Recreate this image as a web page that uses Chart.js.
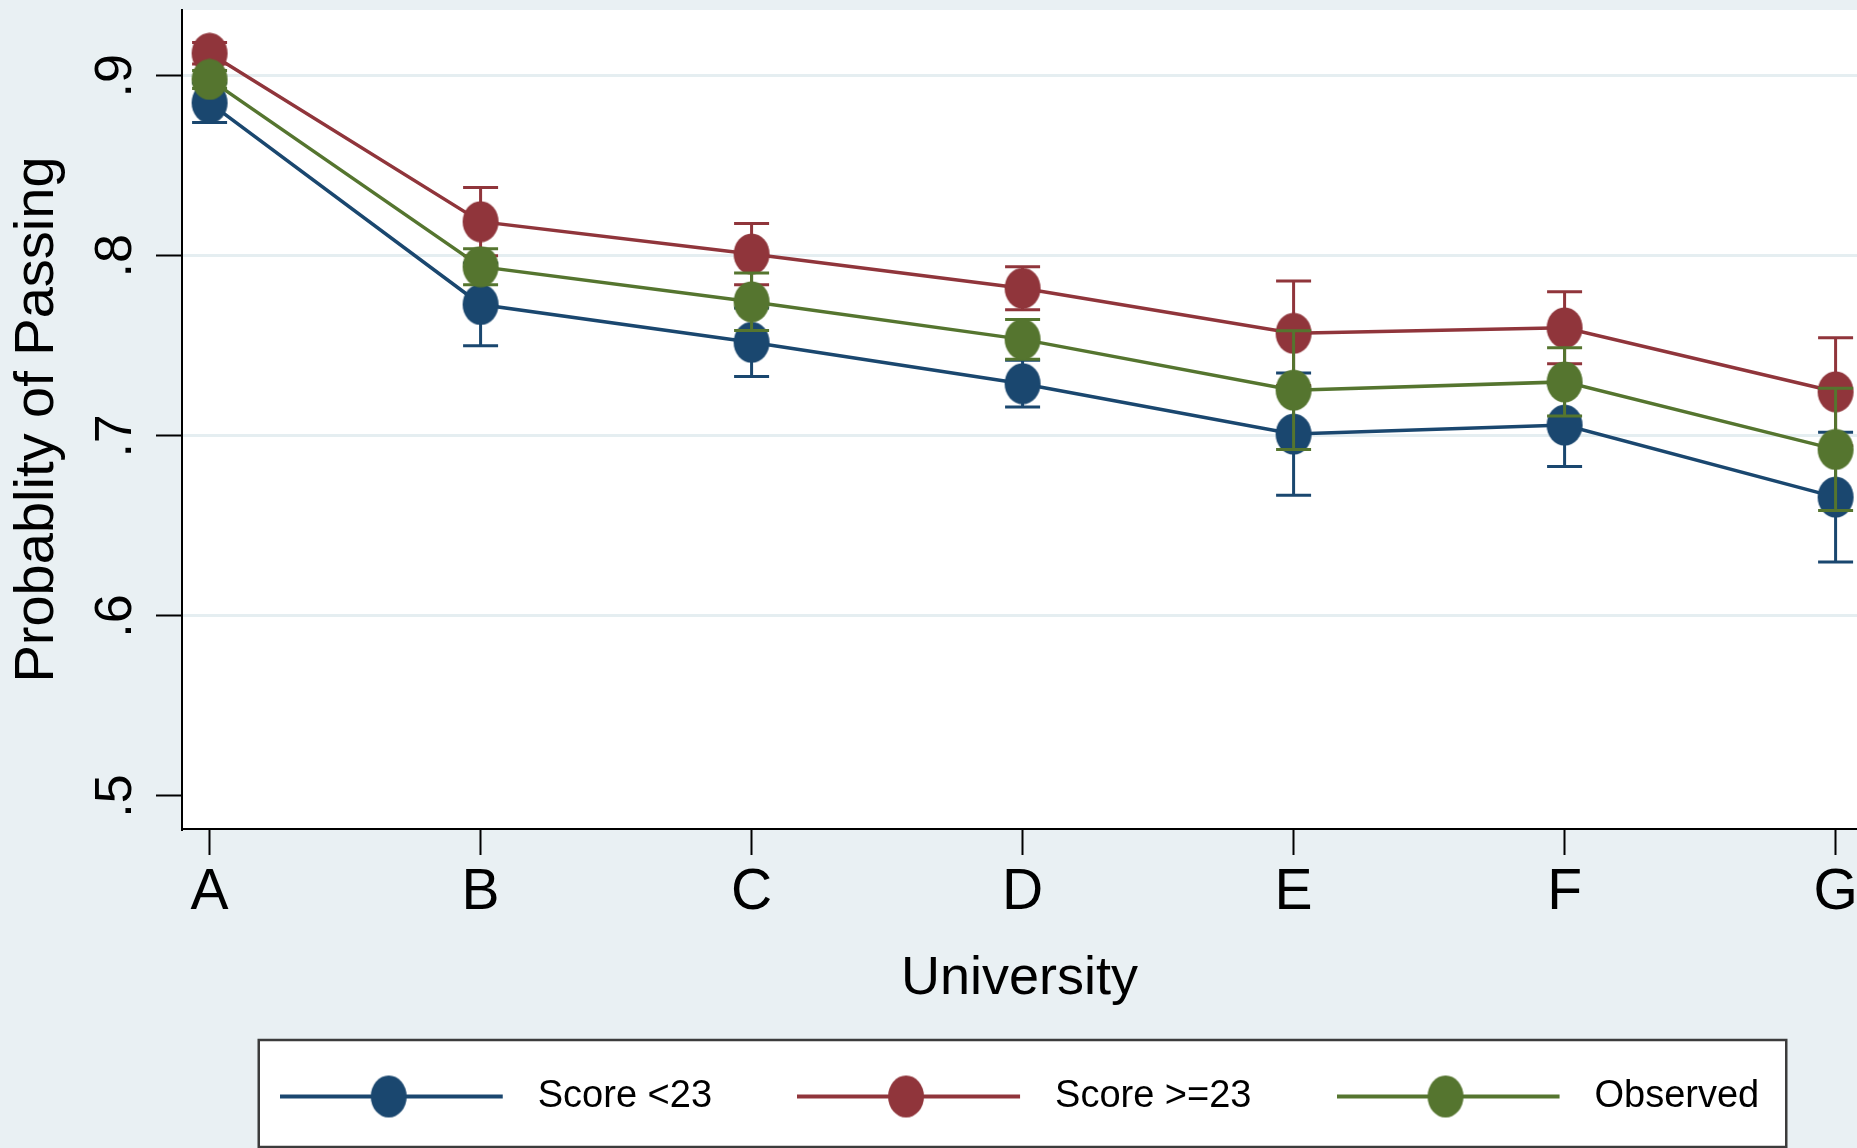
<!DOCTYPE html>
<html>
<head>
<meta charset="utf-8">
<title>Probability of Passing by University</title>
<script src="https://cdn.jsdelivr.net/npm/chart.js@4.4.1/dist/chart.umd.min.js"></script>
<style>
  html, body { margin: 0; padding: 0; background: #e9f0f3; overflow: hidden; }
  canvas { display: block; }
</style>
</head>
<body>
<canvas id="chart" width="1857" height="1148"></canvas>
<script>
// ---- data -------------------------------------------------------------
const universities = ['A', 'B', 'C', 'D', 'E', 'F', 'G'];
const yTickValues = [0.5, 0.6, 0.7, 0.8, 0.9];
const yTickLabels = ['.5', '.6', '.7', '.8', '.9'];
const seriesNames = ['Score <23', 'Score >=23', 'Observed'];

// predicted probability of passing and half-width of its 95% interval
const scoreBelow23     = [0.885, 0.773, 0.752, 0.729, 0.701, 0.706, 0.666];
const scoreBelow23Ci   = [0.011, 0.023, 0.019, 0.013, 0.034, 0.023, 0.036];
const scoreAtLeast23   = [0.9125, 0.819, 0.801, 0.782, 0.757, 0.760, 0.7245];
const scoreAtLeast23Ci = [0.006, 0.019, 0.017, 0.012, 0.029, 0.020, 0.030];
const observed         = [0.898, 0.794, 0.7745, 0.7536, 0.7254, 0.730, 0.6925];
const observedCi       = [0.005, 0.010, 0.016, 0.011, 0.033, 0.019, 0.034];

// ---- styling ----------------------------------------------------------
const NAVY = '#1a476f';
const MAROON = '#90353b';
const FOREST = '#55752f';
const SANS = "'Liberation Sans', Arial, Helvetica, sans-serif";

// elliptical marker drawn once per colour and used as the point style
function makeMarker(color) {
  const c = document.createElement('canvas');
  c.width = 38; c.height = 42;
  const g = c.getContext('2d');
  g.fillStyle = color;
  g.beginPath();
  g.ellipse(19, 21, 18, 20.5, 0, 0, Math.PI * 2);
  g.fill();
  return c;
}

// legend key: a line segment with the marker sitting on it
const KEY_BOX = 239;
function makeKey(color) {
  const c = document.createElement('canvas');
  c.width = KEY_BOX; c.height = 46;
  const g = c.getContext('2d');
  const len = 223;
  g.strokeStyle = color;
  g.lineWidth = 4;
  g.beginPath();
  g.moveTo(0, 23);
  g.lineTo(len, 23);
  g.stroke();
  g.fillStyle = color;
  g.beginPath();
  g.ellipse(109, 23, 18, 21, 0, 0, Math.PI * 2);
  g.fill();
  return c;
}

const colors = [NAVY, MAROON, FOREST];
const markers = colors.map(makeMarker);
const keys = colors.map(makeKey);
const seriesValues = [scoreBelow23, scoreAtLeast23, observed];
const seriesCi = [scoreBelow23Ci, scoreAtLeast23Ci, observedCi];

const datasets = seriesValues.map((vals, k) => ({
  label: seriesNames[k],
  data: vals.map((v, i) => ({ x: i, y: v })),
  borderColor: colors[k],
  backgroundColor: colors[k],
  borderWidth: 3.5,
  pointStyle: markers[k],
  pointRadius: 18,
  pointHoverRadius: 18,
  tension: 0,
  fill: false,
  ci: seriesCi[k],
  order: 2 - k
}));

// ---- plugins ----------------------------------------------------------
const backgroundPlugin = {
  id: 'panels',
  beforeDraw(chart) {
    const { ctx, chartArea, width, height } = chart;
    ctx.save();
    ctx.fillStyle = '#e9f0f3';
    ctx.fillRect(0, 0, width, height);
    ctx.fillStyle = '#ffffff';
    ctx.fillRect(chartArea.left, chartArea.top, chartArea.right - chartArea.left, chartArea.bottom - chartArea.top);

    // framed legend region
    const lg = chart.legend;
    if (lg && lg.legendHitBoxes && lg.legendHitBoxes.length) {
      const hb = lg.legendHitBoxes;
      const first = hb[0], last = hb[hb.length - 1];
      const cy = first.top + first.height / 2;
      const x0 = first.left - 21;
      const x1 = last.left + last.width + 27;
      const y0 = cy - 56.5;
      const y1 = cy + 50.5;
      ctx.fillStyle = '#ffffff';
      ctx.fillRect(x0, y0, x1 - x0, y1 - y0);
      ctx.strokeStyle = '#3c3c3c';
      ctx.lineWidth = 2.5;
      ctx.strokeRect(x0, y0, x1 - x0, y1 - y0);
    }
    ctx.restore();
  }
};

// capped confidence-interval bars, drawn just beneath each series
const ciPlugin = {
  id: 'ciBars',
  beforeDatasetDraw(chart, args) {
    const ds = chart.data.datasets[args.index];
    if (!ds.ci) return;
    const meta = chart.getDatasetMeta(args.index);
    const ys = chart.scales.y;
    const { ctx } = chart;
    const half = 17.5;
    ctx.save();
    ctx.strokeStyle = ds.borderColor;
    ctx.lineWidth = 3;
    meta.data.forEach((pt, i) => {
      const v = ds.data[i].y, e = ds.ci[i];
      const yHi = ys.getPixelForValue(v + e);
      const yLo = ys.getPixelForValue(v - e);
      ctx.beginPath();
      ctx.moveTo(pt.x, yHi); ctx.lineTo(pt.x, yLo);
      ctx.moveTo(pt.x - half, yHi); ctx.lineTo(pt.x + half, yHi);
      ctx.moveTo(pt.x - half, yLo); ctx.lineTo(pt.x + half, yLo);
      ctx.stroke();
    });
    ctx.restore();
  }
};

// ---- chart ------------------------------------------------------------
Chart.defaults.color = '#000';

new Chart(document.getElementById('chart'), {
  type: 'line',
  data: { datasets },
  plugins: [backgroundPlugin, ciPlugin],
  options: {
    responsive: false,
    animation: false,
    devicePixelRatio: 1,
    events: [],
    layout: { padding: { top: 10, left: 0, right: 0, bottom: 22.5 }, autoPadding: false },
    scales: {
      x: {
        type: 'linear',
        min: -0.1018,
        max: 6.079,
        afterBuildTicks: (s) => { s.ticks = universities.map((_, i) => ({ value: i })); },
        afterFit: (s) => { s.height = 163.5; s.paddingLeft = 0; s.paddingRight = 0; },
        ticks: {
          callback: (v) => universities[v],
          font: { family: SANS, size: 57 },
          color: '#000',
          padding: 4,
          maxRotation: 0,
          autoSkip: false
        },
        grid: { drawOnChartArea: false, drawTicks: true, tickLength: 26, tickWidth: 2, tickColor: '#000' },
        border: { display: true, color: '#000', width: 2 },
        title: {
          display: true,
          text: 'University',
          font: { family: SANS, size: 54, lineHeight: 0.5 },
          color: '#000',
          padding: { top: 0, bottom: 0 }
        }
      },
      y: {
        type: 'linear',
        min: 0.48167,
        max: 0.93654,
        afterBuildTicks: (s) => { s.ticks = yTickValues.map(v => ({ value: v })); },
        afterFit: (s) => { s.width = 182; s.paddingTop = 0; s.paddingBottom = 0; },
        ticks: {
          callback: (v, i) => yTickLabels[i],
          minRotation: 90,
          maxRotation: 90,
          crossAlign: 'center',
          font: { family: SANS, size: 52 },
          color: '#000',
          padding: 18
        },
        grid: {
          color: (c) => (c.index === 0 ? 'rgba(0,0,0,0)' : '#e5eef1'),
          lineWidth: 3,
          drawTicks: true,
          tickLength: 26,
          tickWidth: 2,
          tickColor: '#000'
        },
        border: { display: true, color: '#000', width: 2 },
        title: {
          display: true,
          text: 'Probablity of Passing',
          font: { family: SANS, size: 56 },
          color: '#000',
          padding: { top: 4, bottom: 0 }
        }
      }
    },
    plugins: {
      tooltip: { enabled: false },
      legend: {
        display: true,
        position: 'bottom',
        align: 'center',
        fullSize: false,
        maxHeight: 133,
        labels: {
          usePointStyle: true,
          pointStyleWidth: KEY_BOX,
          padding: 85,
          color: '#000',
          font: { family: SANS, size: 38 },
          generateLabels: (chart) => chart.data.datasets.map((ds, i) => ({
            text: ds.label,
            pointStyle: keys[i],
            fillStyle: ds.borderColor,
            strokeStyle: ds.borderColor,
            lineWidth: 0,
            fontColor: '#000',
            hidden: false,
            datasetIndex: i
          }))
        }
      }
    }
  }
});
</script>
</body>
</html>
